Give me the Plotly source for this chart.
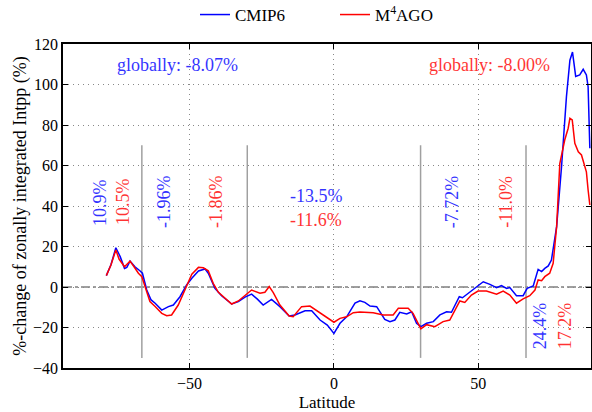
import plotly.graph_objects as go

lat_cmip6 = [-78.8, -77.2, -75.5, -74.0, -72.5, -71.7, -70.6, -68.9, -67.1, -66.3, -64.8, -63.3, -61.9,
             -59.6, -57.3, -55.6, -53.3, -51.0, -49.2, -46.9, -44.6, -43.5, -41.2, -38.9, -35.4, -33.1,
             -30.8, -28.5, -26.5, -24.5, -21.6, -18.7, -15.5, -13.5, -10.0, -7.7, -4.8, -2.3, 0.0, 2.1,
             4.4, 7.3, 9.0, 10.7, 12.5, 14.8, 17.6, 19.4, 21.1, 22.8, 25.2, 26.9, 28.6, 30.1, 32.1, 34.4,
             36.7, 39.0, 40.7, 43.4, 44.5, 46.5, 48.8, 51.7, 54.0, 56.3, 58.0, 59.8, 60.9, 63.2, 65.5,
             66.9, 69.0, 70.7, 71.9, 73.0, 74.2, 75.3, 77.1, 78.8, 80.5, 81.7, 82.6, 83.7, 85.1, 86.3,
             87.4, 88.0, 88.6]
val_cmip6 = [5.6, 11.0, 19.4, 15.0, 9.2, 9.7, 12.8, 10.0, 7.9, 6.8, -1.5, -6.4, -8.0,
             -11.4, -9.7, -8.9, -4.8, 1.0, 4.3, 7.9, 8.9, 6.8, -0.7, -4.3, -8.4, -7.2,
             -5.0, -3.5, -6.0, -8.9, -6.1, -9.7, -14.3, -13.8, -11.7, -11.7, -16.3, -18.8, -22.9, -17.9,
             -14.7, -8.0, -6.8, -7.6, -9.4, -9.7, -16.0, -17.1, -16.3, -12.5, -13.3, -12.2, -17.9, -19.6, -17.9, -17.1,
             -13.8, -12.2, -12.5, -4.8, -5.3, -3.1, -0.3, 2.6, 1.3, -0.3, 0.7, -0.7, -0.3, -4.3, -4.3,
             -0.7, 0.5, 8.7, 7.6, 9.2, 10.4, 13.3, 29.8, 59.4, 94.0, 112.0, 116.0, 104.0, 104.7, 107.5,
             104.7, 98.9, 68.5]

lat_m4ago = [-78.8, -77.2, -75.5, -74.4, -72.5, -70.6, -69.2, -67.7, -66.5, -65.2, -63.7, -61.9, -59.6,
             -57.9, -56.2, -53.9, -51.0, -49.2, -46.9, -45.2, -43.5, -41.8, -40.0, -37.7, -35.4, -33.1,
             -31.4, -28.5, -25.6, -23.9, -22.4, -21.0, -18.7, -15.5, -14.1, -11.2, -8.3, -4.8, -2.5, 0.0,
             2.1, 4.4, 6.7, 9.0, 13.6, 17.1, 20.5, 22.3, 25.7, 27.4, 30.1, 32.1, 34.9, 37.8, 40.1, 41.9,
             43.6, 45.3, 47.6, 49.9, 52.8, 56.3, 58.6, 60.9, 63.2, 65.5, 67.8, 69.6, 70.7, 71.9, 73.0,
             74.7, 75.9, 77.1, 78.2, 79.9, 81.1, 81.7, 82.5, 83.4, 84.6, 85.7, 87.4, 88.0, 88.6]
val_m4ago = [5.6, 10.9, 18.3, 13.8, 10.0, 12.8, 10.0, 6.8, 5.1, -0.7, -7.2, -9.6, -13.0,
             -14.2, -13.8, -8.9, 0.0, 6.3, 9.7, 9.5, 8.0, 1.8, -2.6, -5.3, -8.4, -6.9,
             -4.8, -1.5, -3.1, -2.6, 0.2, -2.8, -8.9, -14.3, -14.7, -9.7, -9.4, -12.7, -14.7, -17.4,
             -15.5, -14.7, -12.7, -12.3, -12.7, -13.8, -13.8, -10.5, -10.5, -13.0, -20.7, -18.6, -19.6, -17.1, -16.3, -11.4,
             -6.9, -7.6, -4.0, -2.0, -2.0, -3.6, -2.0, -4.0, -8.0, -5.9, -4.3, -1.5, 3.5, 3.1, 5.1,
             6.8, 11.7, 29.8, 61.0, 72.6, 78.4, 83.3, 82.5, 71.0, 66.8, 65.2, 56.9, 47.9, 40.5]

region_bounds = [-66.5, -30, 30, 66.5]
region_line_span = [-35, 70]

x_ticks = [-50, 0, 50]
y_ticks = [-40, -20, 0, 20, 40, 60, 80, 100, 120]

# (text, x, y, color, angle)
labels = [
    ("globally: -8.07%", -54.3, 109.6, "blue", 0),
    ("globally: -8.00%", 54.0, 109.6, "red", 0),
    ("10.9%", -81.0, 42, "blue", -90),
    ("10.5%", -73.0, 42, "red", -90),
    ("-1.96%", -58.8, 42, "blue", -90),
    ("-1.86%", -40.8, 42, "red", -90),
    ("-13.5%", -6.2, 45, "blue", 0),
    ("-11.6%", -6.2, 33, "red", 0),
    ("-7.72%", 41.0, 42, "blue", -90),
    ("-11.0%", 59.5, 42, "red", -90),
    ("24.4%", 71.6, -19, "blue", -90),
    ("17.2%", 80.3, -19, "red", -90),
]

FONT = "Liberation Serif"

fig = go.Figure()
fig.add_trace(go.Scatter(x=lat_cmip6, y=val_cmip6, mode="lines", name="CMIP6",
                         line=dict(color="blue", width=1.5)))
fig.add_trace(go.Scatter(x=lat_m4ago, y=val_m4ago, mode="lines", name="M<sup>4</sup>AGO",
                         line=dict(color="red", width=1.5)))

for b in region_bounds:
    fig.add_shape(type="line", x0=b, x1=b, y0=region_line_span[0], y1=region_line_span[1],
                  xref="x", yref="y", line=dict(color="#a0a0a0", width=1.5), layer="below")

fig.add_shape(type="line", x0=0, x1=1, xref="paper", y0=0, y1=0, yref="y",
              line=dict(color="#808080", width=1.5, dash="dashdot"), layer="below")

for text, x, y, color, ang in labels:
    fig.add_annotation(x=x, y=y, text=text, showarrow=False, textangle=ang,
                       font=dict(family=FONT, size=18, color=color),
                       xanchor="center", yanchor="middle", opacity=0.8)

axis_common = dict(showline=True, linecolor="black", linewidth=1.5, mirror="allticks",
                   ticks="inside", ticklen=5, tickwidth=1.2, tickcolor="black",
                   showgrid=True, gridcolor="#888888", griddash="1px,4px", gridwidth=1,
                   zeroline=False, tickfont=dict(family=FONT, size=16, color="black"))

fig.update_xaxes(range=[-93.8, 89.0], tickvals=x_ticks,
                 ticktext=[("\u2212" + str(abs(v))) if v < 0 else str(v) for v in x_ticks],
                 title=dict(text="Latitude", font=dict(family=FONT, size=17), standoff=6),
                 **axis_common)
fig.update_yaxes(range=[-40, 120], tickvals=y_ticks,
                 ticktext=[("\u2212" + str(abs(v))) if v < 0 else str(v) for v in y_ticks],
                 title=dict(text="%-change of zonally integrated Intpp (%)",
                            font=dict(family=FONT, size=18), standoff=2),
                 **axis_common)

fig.update_layout(
    width=592, height=412,
    margin=dict(l=63, r=1, t=44, b=44, autoexpand=False),
    plot_bgcolor="white", paper_bgcolor="white",
    font=dict(family=FONT, size=16, color="black"),
    showlegend=True,
    legend=dict(orientation="h", x=(195 - 63) / 528, y=1 + (44 - 15) / 324,
                xanchor="left", yanchor="middle",
                font=dict(family=FONT, size=17), itemwidth=30, bgcolor="rgba(0,0,0,0)",
                entrywidthmode="pixels", entrywidth=95),
)

fig.write_html("out.html")
